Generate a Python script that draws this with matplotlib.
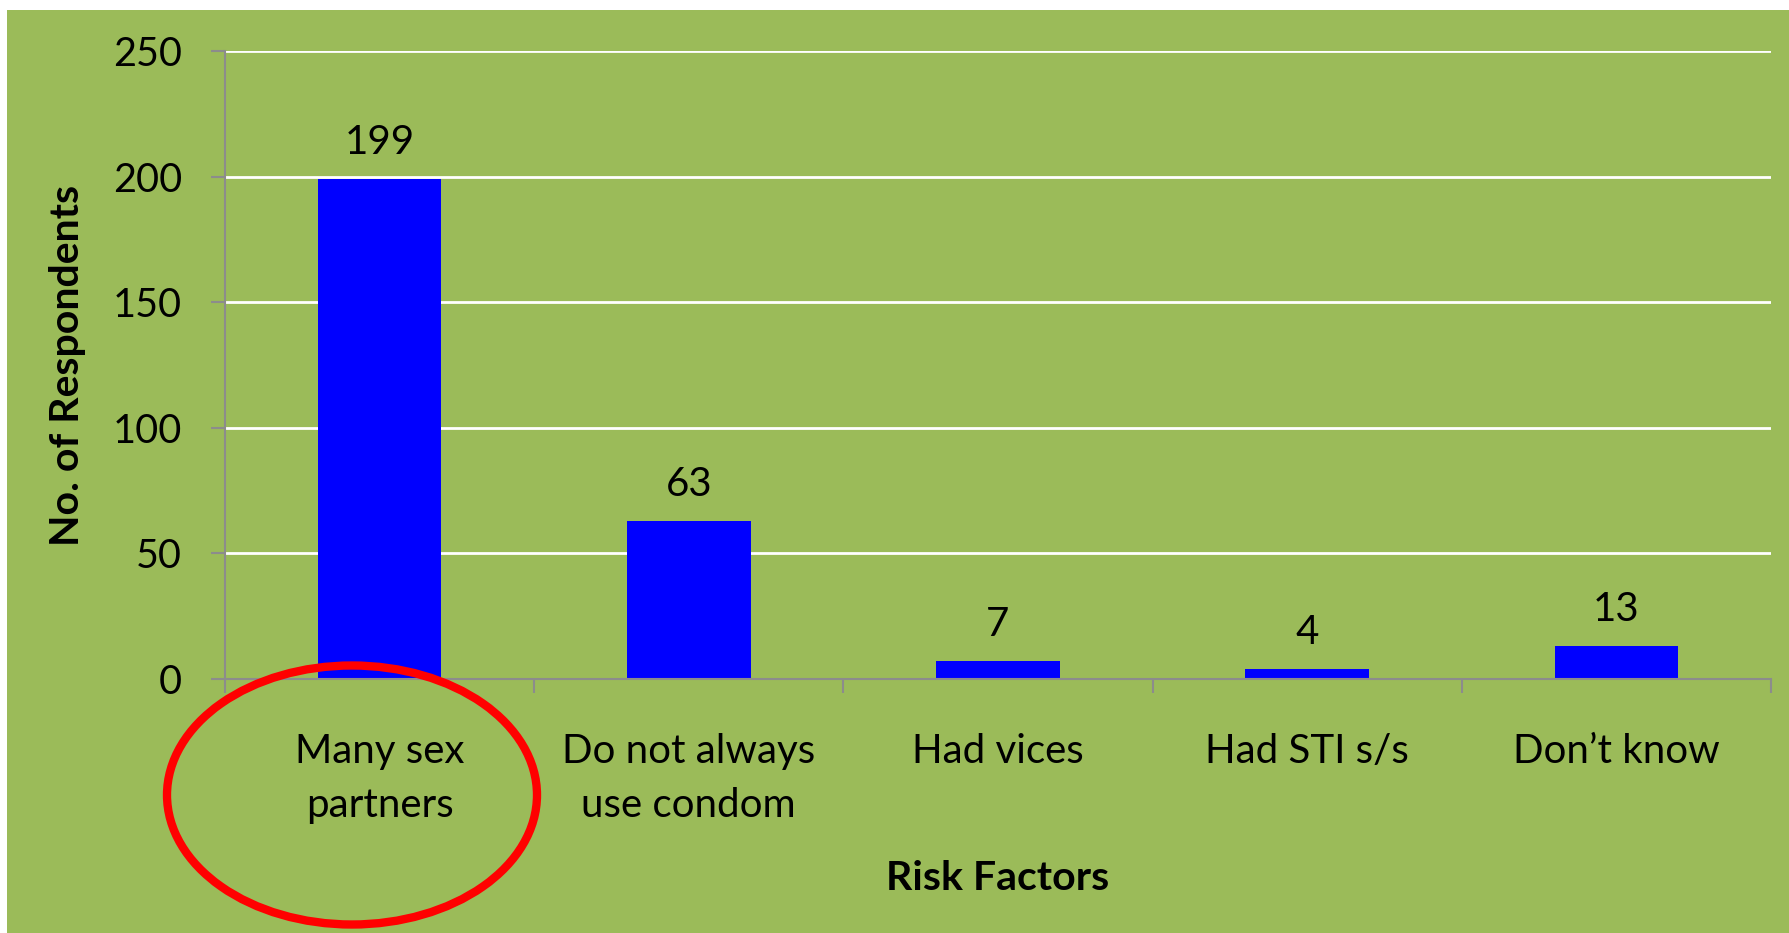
import matplotlib
matplotlib.use("Agg")
import matplotlib.pyplot as plt
from matplotlib.patches import Rectangle, Ellipse

categories = ["Many sex\npartners", "Do not always\nuse condom", "Had vices", "Had STI s/s", "Don\u2019t know"]
values = [199, 63, 7, 4, 13]
yticks = [0, 50, 100, 150, 200, 250]

GREEN = "#9BBB59"
BLUE = "#0000FF"
GREY = "#8C8C8C"

plt.rcParams['font.family'] = ['Lato', 'DejaVu Sans']

W, H = 1789, 933
fig = plt.figure(figsize=(W / 100, H / 100), dpi=100, facecolor="white")
fig.patches.append(Rectangle((7 / W, 0), 1 - 7 / W, 1 - 10 / H, transform=fig.transFigure,
                             facecolor=GREEN, edgecolor="none", zorder=-10))

ax = fig.add_axes([225 / W, 1 - 679 / H, (1771 - 225) / W, (679 - 51) / H])
ax.set_zorder(1)
ax.set_facecolor("none")
x = list(range(len(categories)))
bars = ax.bar(x, values, width=0.4, color=BLUE, zorder=3)
for xi, v in zip(x, values):
    ax.annotate(str(v), (xi, v), xytext=(0, 13), textcoords="offset points",
                ha="center", va="bottom", fontsize=29, color="black")

ax.set_xlim(-0.5, len(categories) - 0.5)
ax.set_ylim(0, 250)
ax.set_yticks(yticks)
ax.set_yticklabels([str(t) for t in yticks], fontsize=28.5)
ax.set_xticks(x)
ax.set_xticklabels(categories, fontsize=29, linespacing=1.55)
ax.set_xticks([i - 0.5 for i in range(len(categories) + 1)], minor=True)
ax.tick_params(axis="x", which="major", length=0, pad=39)
ax.tick_params(axis="x", which="minor", length=10, width=1.5, color=GREY, direction="out")
ax.tick_params(axis="y", length=10, width=1.5, color=GREY, direction="out", pad=21)
ax.yaxis.grid(True, color="white", linewidth=2, zorder=1)
ax.set_axisbelow(True)
for s in ["top", "right"]:
    ax.spines[s].set_visible(False)
for s in ["left", "bottom"]:
    ax.spines[s].set_color(GREY)
    ax.spines[s].set_linewidth(1.5)
    ax.spines[s].set_zorder(4)

ax.set_xlabel("Risk Factors", fontsize=29.5, fontweight="bold", labelpad=26)
ax.set_ylabel("No. of Respondents", fontsize=29.5, fontweight="bold", labelpad=19)

fig.patches.append(Ellipse((352 / W, 1 - 795 / H), 370 / W, 259 / H, transform=fig.transFigure,
                           facecolor="none", edgecolor="#FF0000", linewidth=6, zorder=10))

fig.savefig("out.png", dpi=100, facecolor="white")
